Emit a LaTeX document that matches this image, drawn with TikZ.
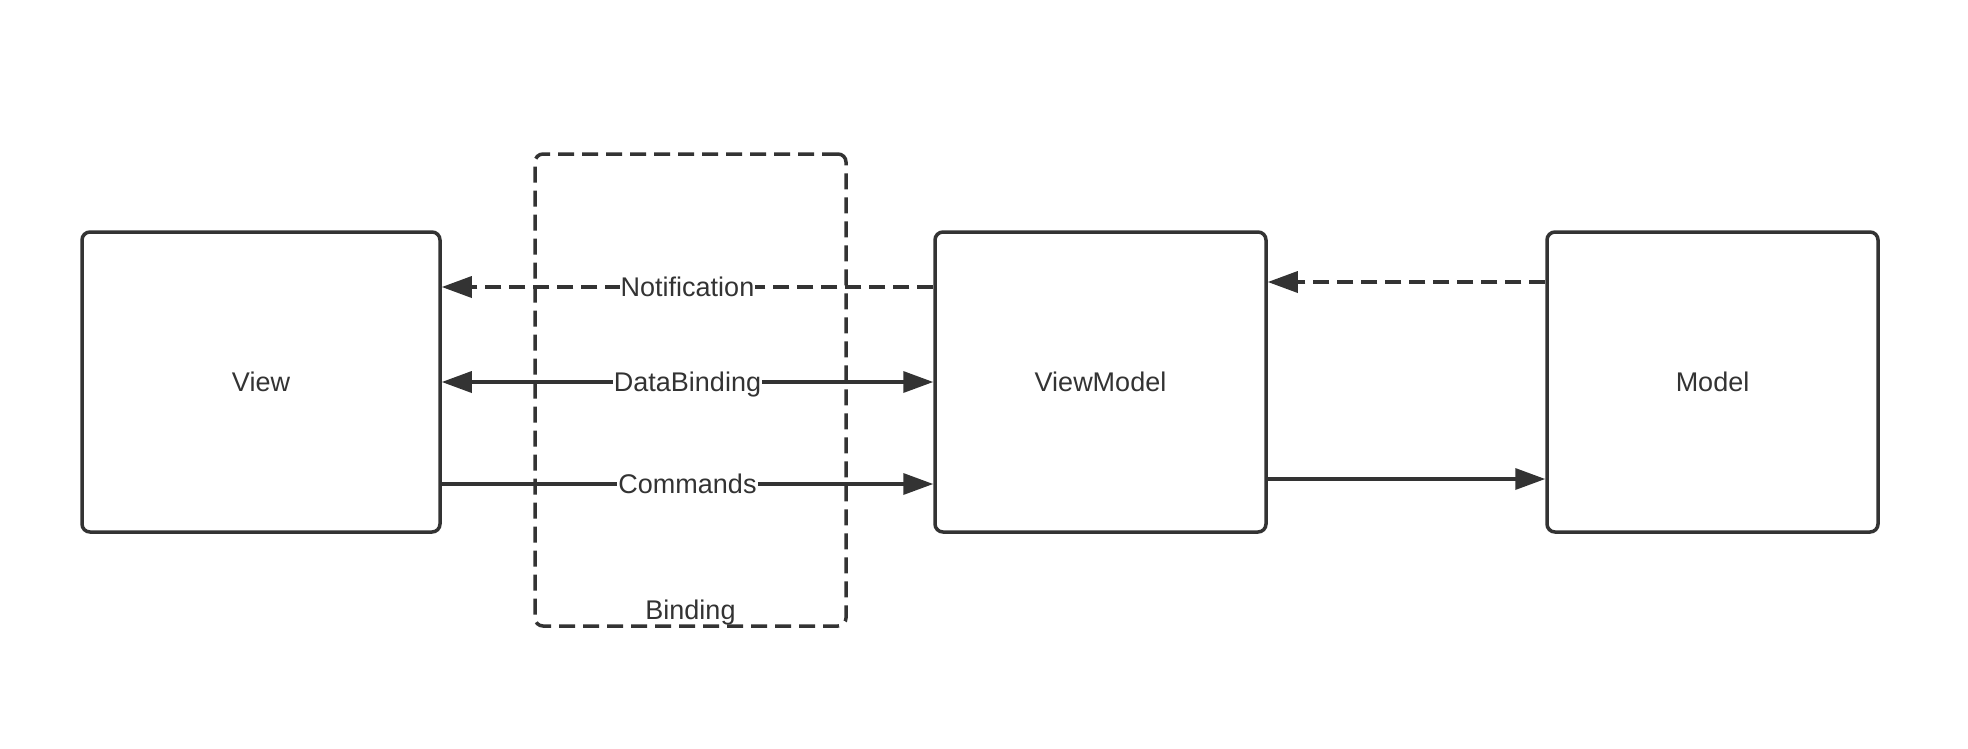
\documentclass[tikz,border=0pt]{standalone}
\usepackage{fontspec}
\setmainfont{Liberation Sans}
\usetikzlibrary{arrows.meta}
\definecolor{ink}{HTML}{333333}
\tikzset{
  box/.style={draw=ink, line width=3.5pt, rounded corners=8pt, minimum width=#1, minimum height=300pt, inner sep=0pt, text=ink, font=\fontsize{27}{30}\selectfont},
  bindbox/.style={draw=ink, line width=3.5pt, rounded corners=8pt, dash pattern=on 16pt off 8pt, minimum width=311pt, minimum height=472pt, inner sep=0pt},
  conn/.style={draw=ink, line width=3.5pt},
  dconn/.style={conn, dash pattern=on 16pt off 8pt},
  tip/.style={-{Triangle[length=30pt,width=21pt]}},
  lbl/.style={fill=white, text=ink, inner xsep=1pt, inner ysep=2pt, font=\fontsize{27}{30}\selectfont, text height=19pt, text depth=0pt},
  plain/.style={text=ink, inner sep=0pt, font=\fontsize{27}{30}\selectfont, text height=19pt, text depth=0pt}
}
\begin{document}
\begin{tikzpicture}[x=1pt,y=-1pt]
\useasboundingbox (0,0) rectangle (1968,748);
\fill[white] (0,0) rectangle (1968,748);
\node[bindbox] (bind) at (690.5,390) {};
\node[plain] (bindlbl) at (690.5,609.5) {Binding};
\node[box=358pt] (view) at (261,382) {View};
\node[box=331pt] (vm) at (1100.5,382) {ViewModel};
\node[box=331pt] (model) at (1712.5,382) {Model};
% connectors
\draw[dconn, tip] ([yshift=95pt]vm.west) -- node[lbl]{Notification} ([yshift=95pt]view.east);
\draw[conn, {Triangle[length=30pt,width=21pt]}-{Triangle[length=30pt,width=21pt]}] (view.east) -- node[lbl]{DataBinding} (vm.west);
\draw[conn, tip] ([yshift=-102pt]view.east) -- node[lbl]{Commands} ([yshift=-102pt]vm.west);
\draw[dconn, tip] ([yshift=100pt]model.west) -- ([yshift=100pt]vm.east);
\draw[conn, tip] ([yshift=-97pt]vm.east) -- ([yshift=-97pt]model.west);
\end{tikzpicture}
\end{document}
